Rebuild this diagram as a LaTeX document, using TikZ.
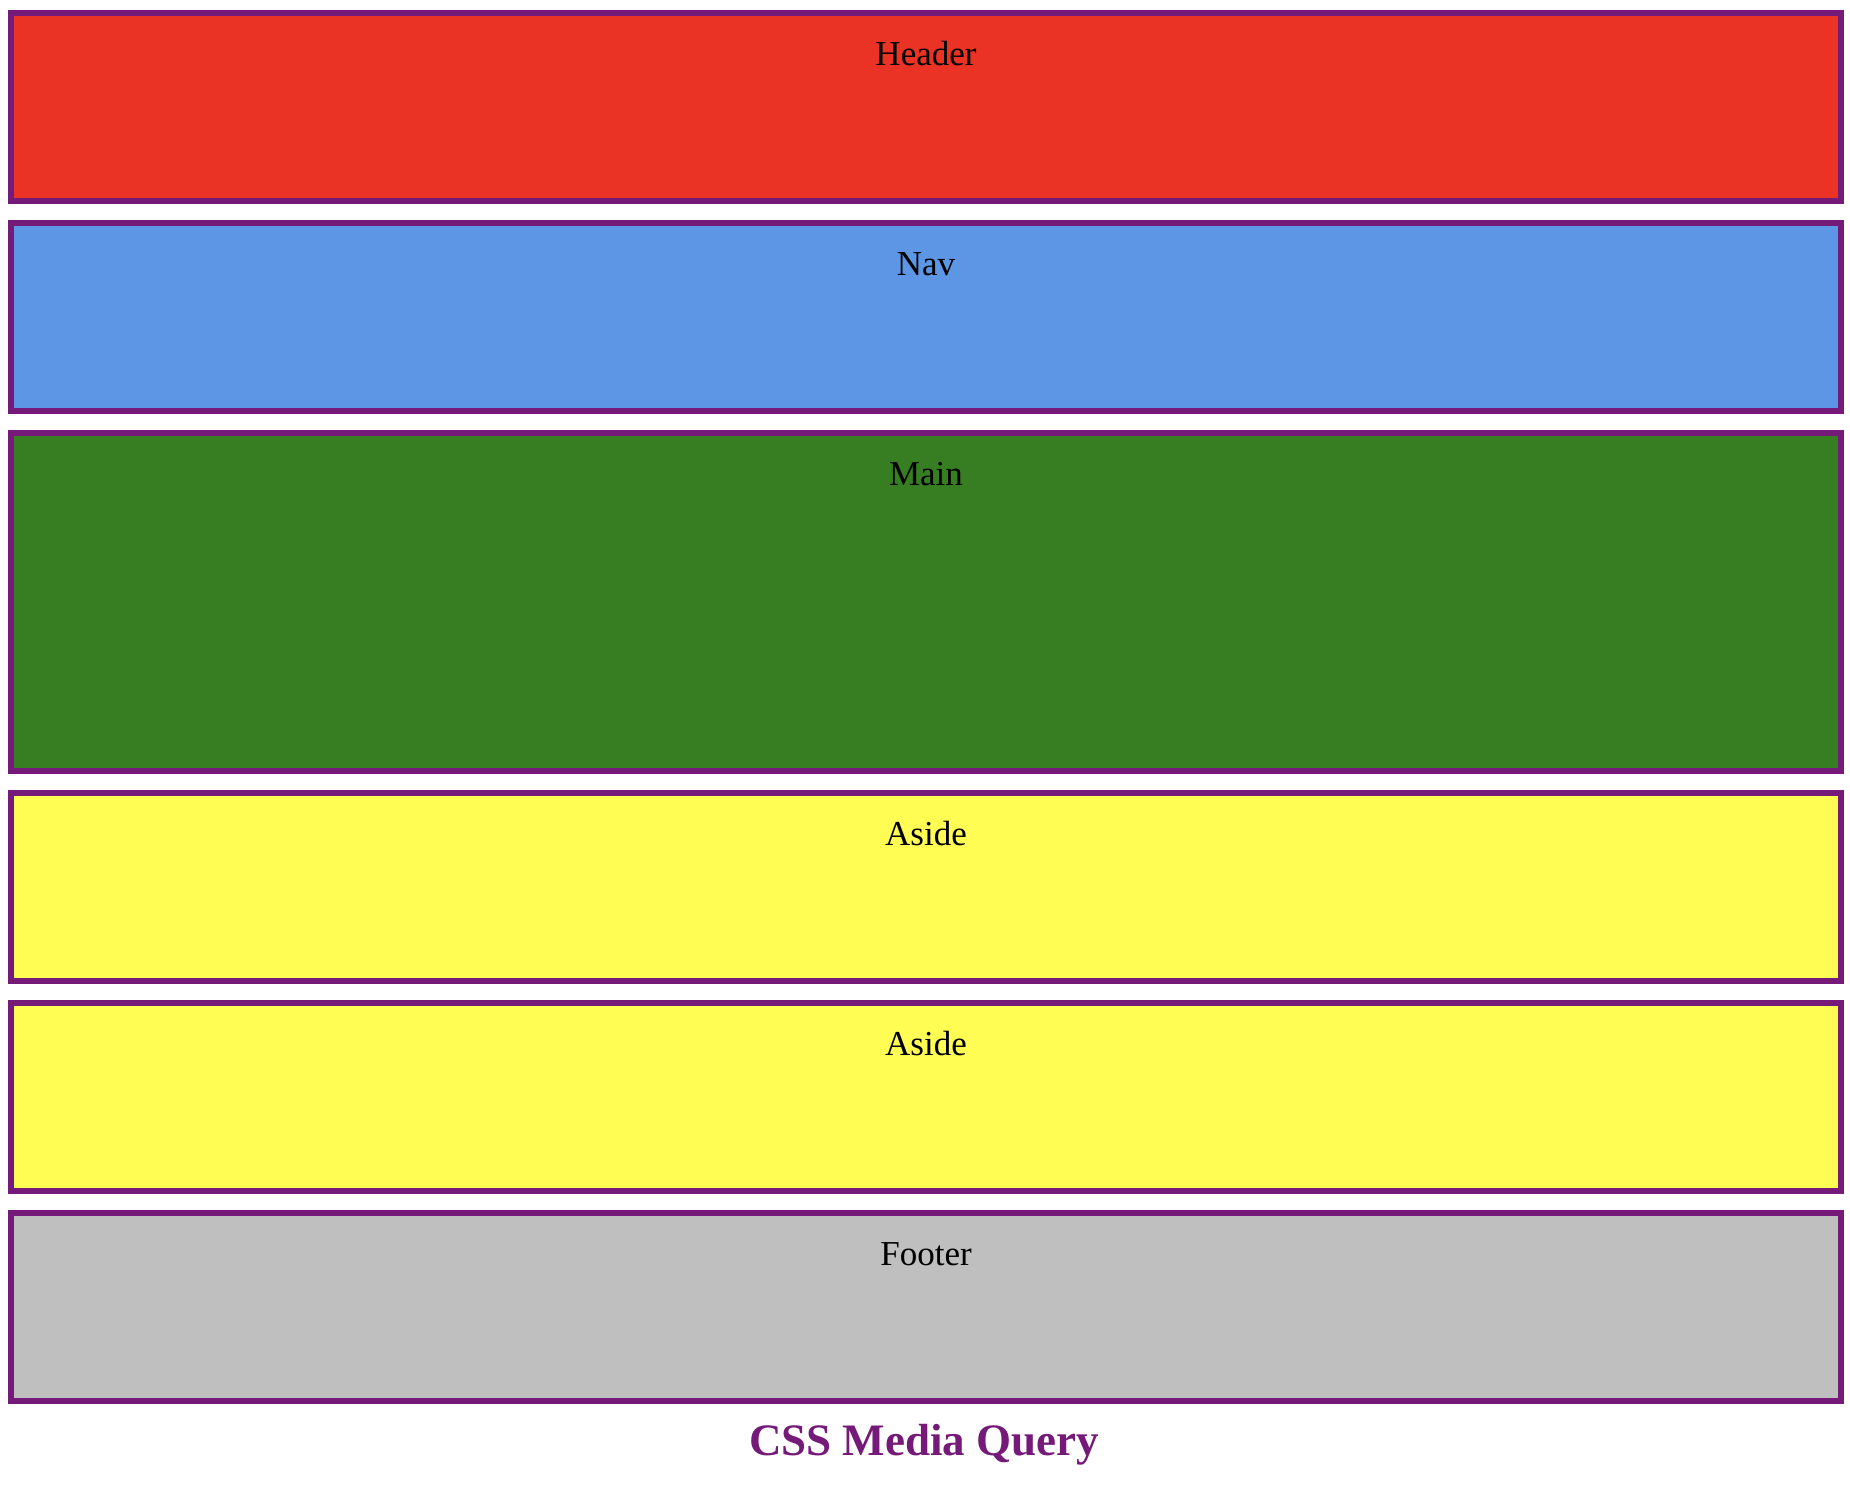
\documentclass[tikz,border=0pt]{standalone}
\usepackage{fontspec}
\setmainfont{Liberation Serif}
\definecolor{bordpurple}{HTML}{761A7A}
\definecolor{cred}{HTML}{EA3324}
\definecolor{cblue}{HTML}{5C96E4}
\definecolor{cgreen}{HTML}{377D22}
\definecolor{cyellow}{HTML}{FFFC54}
\definecolor{cgray}{HTML}{BFBFBF}
\tikzset{
  panel/.style={draw=bordpurple, line width=6pt},
  lbl/.style={anchor=base, inner sep=0pt, font=\fontsize{35pt}{40pt}\selectfont, text=black},
  ttl/.style={anchor=base, inner sep=0pt, font=\fontsize{45pt}{50pt}\selectfont\bfseries, text=bordpurple}
}
\begin{document}
\begin{tikzpicture}[x=1pt,y=-1pt]
\useasboundingbox (0,0) rectangle (1850,1494);
\fill[white] (0,0) rectangle (1850,1494);
% boxes (outer edges: x 8..1844)
\path[panel, fill=cred]    (11,13)   rectangle (1841,201);
\path[panel, fill=cblue]   (11,223)  rectangle (1841,411);
\path[panel, fill=cgreen]  (11,433)  rectangle (1841,771);
\path[panel, fill=cyellow] (11,793)  rectangle (1841,981);
\path[panel, fill=cyellow] (11,1003) rectangle (1841,1191);
\path[panel, fill=cgray]   (11,1213) rectangle (1841,1401);
\node[lbl] (header) at (926,65)   {Header};
\node[lbl] (nav)    at (926,275)  {Nav};
\node[lbl] (main)   at (926,485)  {Main};
\node[lbl] (aside1) at (926,845)  {Aside};
\node[lbl] (aside2) at (926,1055) {Aside};
\node[lbl] (footer) at (926,1265) {Footer};
\node[ttl] (title)  at (924,1455) {CSS Media Query};
\end{tikzpicture}
\end{document}
